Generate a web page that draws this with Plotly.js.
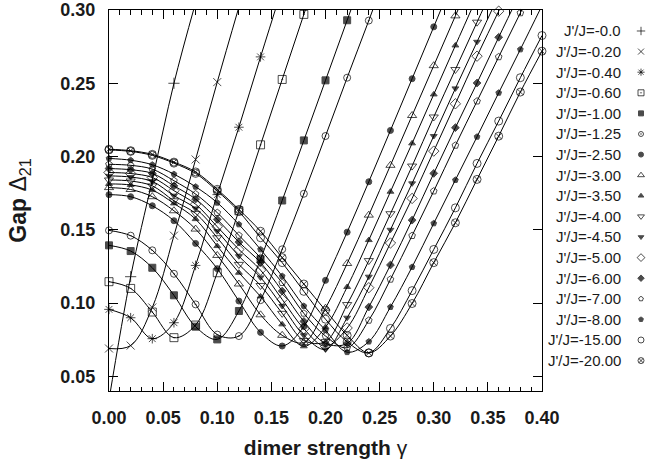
<!DOCTYPE html>
<html>
<head>
<meta charset="utf-8">
<script src="https://cdn.plot.ly/plotly-3.0.1.min.js"></script>
<style>
  html, body { margin: 0; padding: 0; background: #fff; }
  #chart { width: 647px; height: 464px; }
</style>
</head>
<body>
<div id="chart"></div>
<script>
// Dimer strength grid (γ), sampled every 0.02
const gammaGrid = [0.00, 0.02, 0.04, 0.06, 0.08, 0.10, 0.12, 0.14, 0.16, 0.18, 0.20,
                   0.22, 0.24, 0.26, 0.28, 0.30, 0.32, 0.34, 0.36, 0.38, 0.40];

// Coupling ratios J'/J shown in the key
const ratioLabels = ["-0.0", "-0.20", "-0.40", "-0.60", "-1.00", "-1.25", "-2.50", "-3.00",
                     "-3.50", "-4.00", "-4.50", "-5.00", "-6.00", "-7.00", "-8.00", "-15.00", "-20.00"];

// Gap Δ21 for each ratio, one value per grid point starting at γ = 0
const gapR000 = [0.034, 0.118, 0.184, 0.250, 0.305];
const gapR020 = [0.069, 0.071, 0.097, 0.146, 0.198, 0.2508, 0.302];
const gapR040 = [0.0957, 0.090, 0.0757, 0.0866, 0.1257, 0.174, 0.220, 0.268, 0.315];
const gapR060 = [0.1146, 0.110, 0.0939, 0.0764, 0.085, 0.1207, 0.163, 0.208, 0.2526, 0.297, 0.342];
const gapR100 = [0.1394, 0.1355, 0.1241, 0.1053, 0.0839, 0.0752, 0.0946, 0.130, 0.170, 0.211, 0.252, 0.293, 0.334];
const gapR125 = [0.1496, 0.146, 0.136, 0.120, 0.0991, 0.0785, 0.0775, 0.102, 0.1367, 0.1746, 0.214, 0.2538, 0.2928, 0.333];
const gapR250 = [0.174, 0.1726, 0.1664, 0.1562, 0.1407, 0.1235, 0.1014, 0.080, 0.0707, 0.084, 0.1155,
                 0.1484, 0.1828, 0.2178, 0.2531, 0.2885, 0.324];
const gapR300 = [0.1788, 0.1775, 0.1726, 0.163, 0.1505, 0.1325, 0.113, 0.092, 0.078, 0.073, 0.0965,
                 0.127, 0.160, 0.194, 0.228, 0.262, 0.296, 0.330];
const gapR350 = [0.1813, 0.1806, 0.1771, 0.168, 0.1573, 0.1389, 0.1207, 0.1045, 0.0855, 0.0705, 0.0836,
                 0.111, 0.143, 0.176, 0.209, 0.2424, 0.2758, 0.309];
const gapR400 = [0.184, 0.1833, 0.180, 0.1698, 0.1612, 0.1446, 0.1264, 0.112, 0.093, 0.0745, 0.0737,
                 0.099, 0.129, 0.161, 0.1935, 0.227, 0.2594, 0.2917, 0.324];
const gapR450 = [0.1868, 0.186, 0.183, 0.1733, 0.1646, 0.1491, 0.132, 0.1175, 0.098, 0.078, 0.0684,
                 0.090, 0.118, 0.150, 0.1817, 0.214, 0.2465, 0.2783, 0.310];
const gapR500 = [0.1891, 0.1884, 0.1857, 0.1767, 0.1675, 0.1521, 0.1366, 0.1225, 0.1025, 0.0825, 0.0705,
                 0.083, 0.1105, 0.141, 0.1714, 0.2037, 0.236, 0.2685, 0.2992, 0.330];
const gapR600 = [0.1918, 0.191, 0.1885, 0.180, 0.171, 0.1571, 0.1416, 0.1276, 0.1082, 0.0875, 0.0725,
                 0.0725, 0.0973, 0.126, 0.1566, 0.1885, 0.2197, 0.2502, 0.2814, 0.312];
const gapR700 = [0.1947, 0.194, 0.1914, 0.1835, 0.1744, 0.1617, 0.1462, 0.131, 0.1139, 0.093, 0.0775,
                 0.0695, 0.0882, 0.1162, 0.146, 0.1764, 0.2076, 0.2378, 0.268, 0.298, 0.328];
const gapR800 = [0.1987, 0.1975, 0.1944, 0.188, 0.1794, 0.1685, 0.1537, 0.1366, 0.1184, 0.098, 0.0815,
                 0.0665, 0.0737, 0.0973, 0.1246, 0.1544, 0.184, 0.2135, 0.2435, 0.2731, 0.303];
const gapR1500 = [0.2045, 0.2035, 0.2008, 0.1955, 0.1885, 0.1765, 0.1625, 0.1446, 0.1276, 0.108, 0.089,
                  0.0735, 0.066, 0.0827, 0.1085, 0.1366, 0.165, 0.1953, 0.2242, 0.2538, 0.2826];
const gapR2000 = [0.2050, 0.2040, 0.2015, 0.1962, 0.1895, 0.1776, 0.1639, 0.149, 0.131, 0.113, 0.095,
                  0.078, 0.066, 0.0775, 0.0997, 0.1276, 0.1548, 0.1844, 0.2139, 0.2440, 0.2719];

const gapSeries = [gapR000, gapR020, gapR040, gapR060, gapR100, gapR125, gapR250, gapR300, gapR350,
                   gapR400, gapR450, gapR500, gapR600, gapR700, gapR800, gapR1500, gapR2000];

// Point styles, one per ratio
const pointSymbols = ["cross-thin-open", "x-thin-open", "asterisk-open", "square-open-dot", "square",
                      "circle-open-dot", "circle", "triangle-up-open", "triangle-up", "triangle-down-open",
                      "triangle-down", "diamond-open", "diamond", "pentagon-open", "pentagon",
                      "circle-open", "circle-x-open"];
const pointSizes = [8, 8, 8, 8, 7, 7, 6, 8, 6, 8, 6, 8, 6, 7, 6, 8, 8];
const keySizes   = [6, 6, 6, 6, 5, 5, 5, 6, 5, 6, 5, 6, 5, 5, 5, 6, 6];

const X_RANGE = [0, 0.40];
const Y_RANGE = [0.04, 0.30];
const INK = "#000";
const TEXT = "#1a1a1a";
const FONT = "Liberation Sans, Arial, sans-serif";

const traces = [];

gapSeries.forEach((vals, i) => {
  const xs = gammaGrid.slice(0, vals.length);
  // points beyond the frame are kept for the curve but get no marker
  const sizes = vals.map((v, k) =>
    (v >= Y_RANGE[0] && v <= Y_RANGE[1] && xs[k] <= X_RANGE[1]) ? pointSizes[i] : 0);
  traces.push({
    type: "scatter",
    mode: "lines+markers",
    x: xs,
    y: vals,
    xaxis: "x", yaxis: "y",
    cliponaxis: false,
    line: { color: INK, width: 1, shape: "spline", smoothing: 1 },
    marker: { symbol: pointSymbols[i], size: sizes, color: INK,
              line: { color: INK, width: 1 } },
    showlegend: false,
    hoverinfo: "skip"
  });
});

// key symbols column, to the right of the labels
const keyRows = ratioLabels.map((_, i) => i);
traces.push({
  type: "scatter",
  mode: "markers",
  x: keyRows.map(() => 0),
  y: keyRows,
  xaxis: "x2", yaxis: "y2",
  cliponaxis: false,
  marker: { symbol: pointSymbols, size: keySizes, color: INK, line: { color: INK, width: 1 } },
  showlegend: false,
  hoverinfo: "skip"
});

const keyLabels = ratioLabels.map((r, i) => ({
  xref: "paper", yref: "y2",
  x: 0.9584, y: i,
  xanchor: "right", yanchor: "middle",
  text: "J'/J=" + r,
  showarrow: false,
  font: { family: FONT, size: 15, color: TEXT }
}));

const tickFont = { family: FONT, size: 18, color: TEXT, weight: "bold" };
const titleFont = { family: FONT, size: 21, color: TEXT };

const layout = {
  width: 647,
  height: 464,
  margin: { l: 109, r: 2, t: 10, b: 73 },
  paper_bgcolor: "#fff",
  plot_bgcolor: "#fff",
  showlegend: false,
  xaxis: {
    domain: [0, 433 / 536],
    range: X_RANGE,
    tick0: 0, dtick: 0.05,
    tickformat: ".2f",
    ticks: "inside", ticklen: 9, tickwidth: 1, tickcolor: INK,
    minor: { dtick: 0.01, ticks: "inside", ticklen: 4.5, tickwidth: 1, tickcolor: INK },
    mirror: "allticks",
    showline: true, linecolor: INK, linewidth: 1,
    showgrid: false, zeroline: false,
    tickfont: tickFont,
    ticklabelstandoff: 10,
    automargin: false,
    title: { text: "<b>dimer strength</b> γ", font: titleFont, standoff: 13 },
    anchor: "y"
  },
  yaxis: {
    domain: [0, 1],
    range: Y_RANGE,
    tick0: 0, dtick: 0.05,
    tickformat: ".2f",
    ticks: "inside", ticklen: 9, tickwidth: 1, tickcolor: INK,
    mirror: "allticks",
    showline: true, linecolor: INK, linewidth: 1,
    showgrid: false, zeroline: false,
    tickfont: tickFont,
    ticklabelstandoff: 9,
    automargin: false,
    title: { text: "<b>Gap</b> Δ<sub>21</sub>", font: { family: FONT, size: 23, color: TEXT }, standoff: 27 },
    anchor: "x"
  },
  xaxis2: { domain: [0.95, 1], range: [-0.851, 0.149], visible: false, anchor: "y2" },
  yaxis2: { domain: [0, 1], range: [17.476, -1.019], visible: false, anchor: "x2" },
  annotations: keyLabels
};

Plotly.newPlot("chart", traces, layout, { staticPlot: true, displayModeBar: false });
</script>
</body>
</html>
